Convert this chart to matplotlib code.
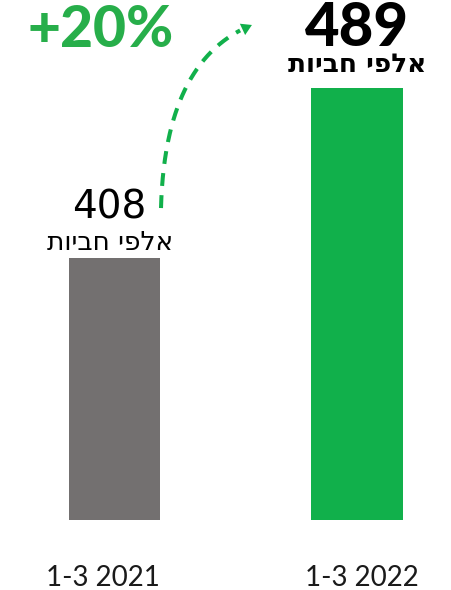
import numpy as np
import matplotlib
matplotlib.use("Agg")
from matplotlib import pyplot as plt

# Barrels sold, first quarter, thousands
periods = ["1-3 2021", "1-3 2022"]
barrels = [408, 489]
unit_label = "אלפי חביות"
change_label = "+20%"

GRAY = "#737070"
GREEN = "#11b04b"
TEXT_GREEN = "#27ae4a"


def rtl(s):
    # matplotlib has no bidi support, so flip Hebrew runs by hand
    return s[::-1]


fig = plt.figure(figsize=(4.51, 5.90), dpi=100)
ax = fig.add_axes([0, 70 / 590, 1, 520 / 590])
ax.set_xlim(-0.472, 1.388)
ax.set_ylim(283, 530.7)
ax.axis("off")

x = np.arange(len(barrels))
ax.bar(x, barrels, width=0.377, color=[GRAY, GREEN], zorder=2)

num_fonts = ["DejaVu Sans"]
heavy_fonts = ["Lato", "DejaVu Sans"]
heb_fonts = ["DejaVu Sans"]

# 2021 labels: regular weight
ax.text(x[0] - 0.02, barrels[0] + 18.4, str(barrels[0]), ha="center", va="baseline",
        fontsize=28, family=num_fonts, color="black")
ax.text(x[0] - 0.02, barrels[0] + 3.6, rtl(unit_label), ha="center", va="baseline",
        fontsize=19, family=heb_fonts, color="black")

# 2022 labels: heavy weight
ax.text(x[1], barrels[1] + 20, str(barrels[1]), ha="center", va="baseline",
        fontsize=43, family=heavy_fonts, fontweight="black", color="black")
ax.text(x[1], barrels[1] + 7.4, rtl(unit_label), ha="center", va="baseline",
        fontsize=19, family=heb_fonts, fontweight="bold", color="black")

# growth figure
ax.text(x[0] - 0.058, barrels[1] + 19.3, change_label, ha="center", va="baseline",
        fontsize=41, family=heavy_fonts, fontweight="black", color=TEXT_GREEN)

# dashed curved arrow from the 2021 value towards the 2022 value
p0 = np.array([0.192, 431.6])
p1 = np.array([0.208, 502.2])
p2 = np.array([0.567, 518.8])
t = np.linspace(0, 1, 200)[:, None]
curve = (1 - t) ** 2 * p0 + 2 * (1 - t) * t * p1 + t ** 2 * p2
ax.plot(curve[:-14, 0], curve[:-14, 1], color=GREEN, lw=2.9,
        dashes=(3.2, 2.3), dash_capstyle="butt")
ax.annotate("", xy=curve[-1], xytext=curve[-16],
            arrowprops=dict(arrowstyle="-|>,head_length=0.75,head_width=0.45",
                            color=GREEN, lw=0, shrinkA=0, shrinkB=0))

# period labels under the bars
label_x = [x[0] - 0.047, x[1] + 0.02]
for xi, p in zip(label_x, periods):
    ax.text(xi, 283 - 27.8, p, ha="center", va="center",
            fontsize=20, family=heavy_fonts, color="#1a1a1a",
            clip_on=False)

fig.savefig("out.png", dpi=100)
